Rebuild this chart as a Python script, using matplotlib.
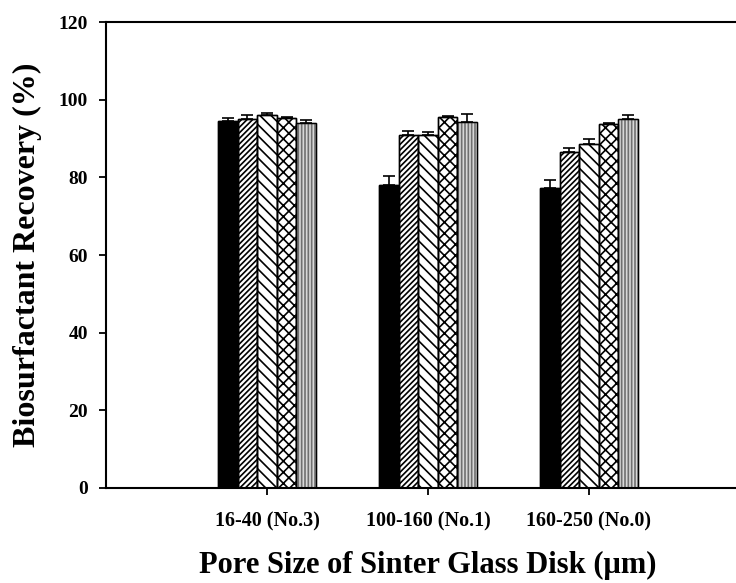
import matplotlib.pyplot as plt
import numpy as np

plt.rcParams['font.family'] = ['Liberation Serif', 'DejaVu Serif']
plt.rcParams['font.weight'] = 'bold'
plt.rcParams['hatch.linewidth'] = 1.2

groups = ['16-40 (No.3)', '100-160 (No.1)', '160-250 (No.0)']
recovery = [
    [94.5, 78.0, 77.3],
    [95.0, 90.9, 86.6],
    [96.0, 90.9, 88.6],
    [95.3, 95.5, 93.7],
    [94.0, 94.3, 95.0],
]
errors = [
    [0.8, 2.4, 2.0],
    [1.0, 1.0, 0.9],
    [0.6, 0.9, 1.3],
    [0.3, 0.4, 0.2],
    [0.8, 2.0, 1.2],
]

faces = ['black', 'white', 'white', 'white', '#d8d8d8']
hatches = [None, '//////', '\\\\\\', 'xxx', '|||||']
edges = ['black', 'black', 'black', 'black', '#707070']

fig = plt.figure(figsize=(7.36, 5.83), dpi=100)
ax = fig.add_axes([0.144, 0.163, 0.875, 0.799])

x = np.arange(len(groups))
w = 0.122
for i in range(len(recovery)):
    pos = x + (i - 2) * w
    ax.bar(pos, recovery[i], w, color=faces[i], hatch=hatches[i],
           edgecolor=edges[i], linewidth=1.0, zorder=2)
    ax.bar(pos, recovery[i], w, color='none', edgecolor='black',
           linewidth=1.0, zorder=3)
    ax.errorbar(pos, recovery[i], yerr=[np.zeros(3), errors[i]], fmt='none',
                ecolor='black', elinewidth=1.2, capsize=4, capthick=1.2, zorder=4)

ax.set_xlim(-1.0, 3.0)
ax.set_ylim(0, 120)
ax.set_yticks(np.arange(0, 121, 20))
ax.set_xticks(x)
ax.set_xticklabels(groups, fontsize=14.5, fontweight='bold')
ax.tick_params(axis='y', labelsize=14, direction='out', length=5, width=1.3, pad=8)
ax.tick_params(axis='x', direction='out', length=5, width=1.3, pad=12)
for lab in ax.get_yticklabels():
    lab.set_fontweight('bold')
for s in ['left', 'bottom', 'top']:
    ax.spines[s].set_linewidth(1.5)
ax.spines['right'].set_visible(False)

ax.set_ylabel('Biosurfactant Recovery (%)', fontsize=23, fontweight='bold', labelpad=12)
ax.set_xlabel('Pore Size of Sinter Glass Disk (μm)', fontsize=22, fontweight='bold', labelpad=14)

fig.savefig('out.png', dpi=100)
